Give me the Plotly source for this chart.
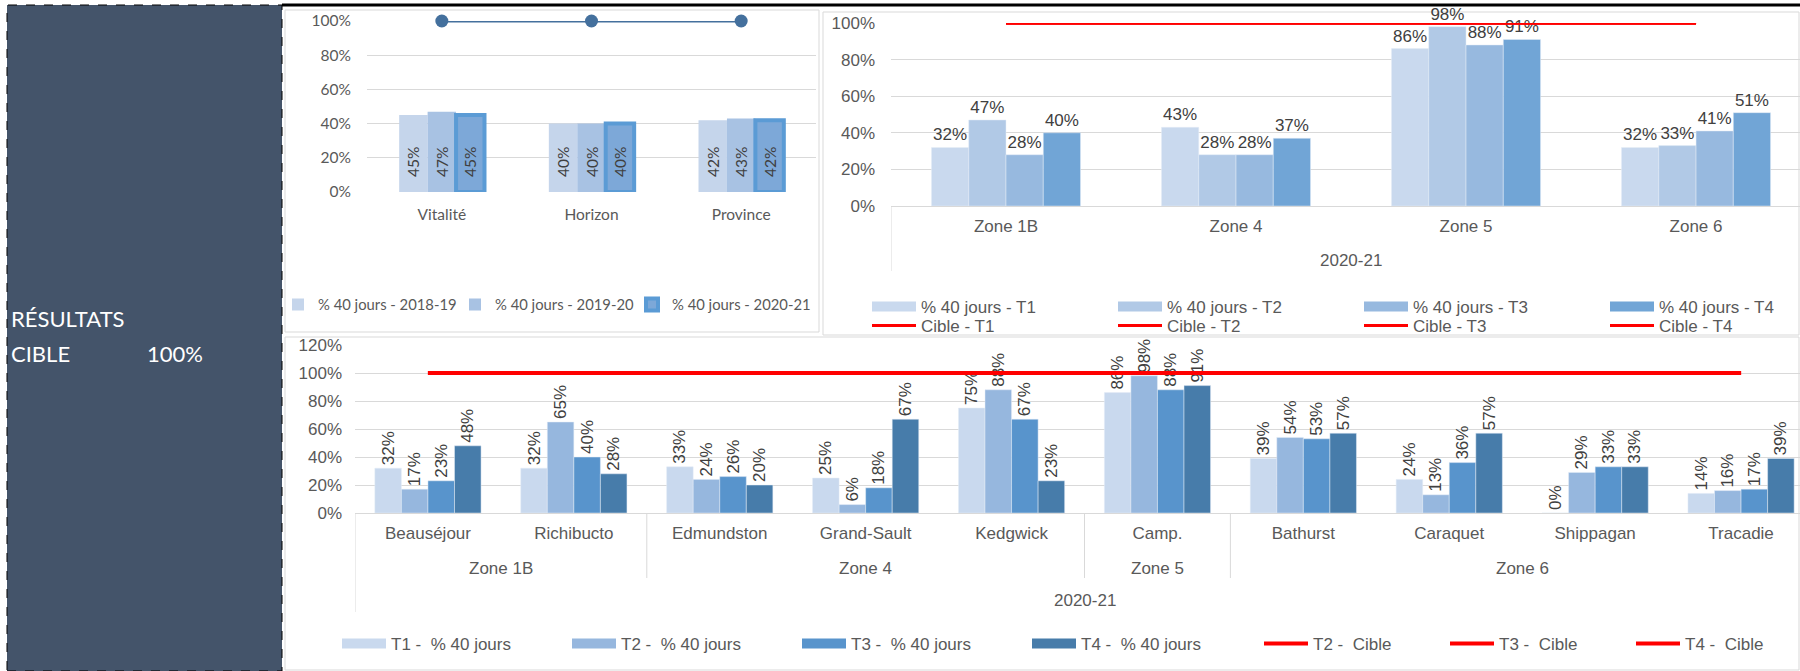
import plotly.graph_objects as go

W, H = 1800, 671

# --- top left: reseaux
reseaux = ["Vitalité", "Horizon", "Province"]
annees = ["% 40 jours - 2018-19", "% 40 jours - 2019-20", "% 40 jours - 2020-21"]
pct_reseaux = [
    [45, 40, 42],
    [47, 40, 43],
    [45, 40, 42],
]
cible_reseaux = [100, 100, 100]

# --- top right: zones
annee = "2020-21"
zones = ["Zone 1B", "Zone 4", "Zone 5", "Zone 6"]
trimestres = ["T1", "T2", "T3", "T4"]
pct_zones = [
    [32, 43, 86, 32],
    [47, 28, 98, 33],
    [28, 28, 88, 41],
    [40, 37, 91, 51],
]
cible_zones = [100, 100, 100, 100]

# --- bottom: sites
sites = ["Beauséjour", "Richibucto", "Edmundston", "Grand-Sault", "Kedgwick",
         "Camp.", "Bathurst", "Caraquet", "Shippagan", "Tracadie"]
zones_sites = ["Zone 1B", "Zone 1B", "Zone 4", "Zone 4", "Zone 4",
               "Zone 5", "Zone 6", "Zone 6", "Zone 6", "Zone 6"]
pct_sites = [
    [32, 32, 33, 25, 75, 86, 39, 24, 0, 14],
    [17, 65, 24, 6, 88, 98, 54, 13, 29, 16],
    [23, 40, 26, 18, 67, 88, 53, 36, 33, 17],
    [48, 28, 20, 67, 23, 91, 57, 57, 33, 39],
]
cible_sites = [100, 100, 100, 100, 100, 100, 100, 100, 100, 100]
cible_trim_sites = ["T2", "T3", "T4"]

col_reseaux = ["#C5D5EB", "#A8C2E3", "#7DA8D8"]
col_zones = ["#C9D9EE", "#B1C9E6", "#97B9DF", "#71A5D6"]
col_sites = ["#C9D9EE", "#96B7DE", "#5894CC", "#477CAA"]
RED = "#FF0000"
GRID = "#D9D9D9"
TXT = "#595959"
ARIAL = "Liberation Sans"
CALI = "Lato"
NB = "\u00a0"


def px_x(p):
    return p / W


def px_y(p):
    return 1 - p / H


fig = go.Figure()

# top left bars
w = 0.19
for i, name in enumerate(annees):
    fig.add_trace(go.Bar(
        x=reseaux, y=pct_reseaux[i], name=name,
        width=w, offset=-1.5 * w + i * w,
        marker=dict(color=col_reseaux[i],
                    line=dict(color="#5B9BD5" if i == 2 else col_reseaux[i],
                              width=4 if i == 2 else 0)),
        text=[NB * 3 + f"{v}%" for v in pct_reseaux[i]],
        textposition="inside", insidetextanchor="start", textangle=-90,
        textfont=dict(family=CALI, size=15.5, color="#404040"),
        xaxis="x", yaxis="y", legend="legend",
    ))
# empty trailing entry so the last legend label is not clipped
fig.add_trace(go.Scatter(
    x=[None], y=[None], mode="lines", name=NB, line=dict(color="rgba(0,0,0,0)"),
    xaxis="x", yaxis="y", legend="legend",
))
fig.add_trace(go.Scatter(
    x=reseaux, y=cible_reseaux, mode="lines+markers", name="Cible",
    line=dict(color="#44709D", width=3), marker=dict(size=13, color="#44709D"),
    cliponaxis=False, showlegend=False, xaxis="x", yaxis="y",
))

# top right bars (legend entries drawn as wide swatches)
w = 0.162
for i, t in enumerate(trimestres):
    fig.add_trace(go.Bar(
        x=zones, y=pct_zones[i], name=f"% 40 jours - {t}",
        width=w, offset=-2 * w + i * w,
        marker=dict(color=col_zones[i]),
        text=[f"{v}%" for v in pct_zones[i]],
        textposition="outside", constraintext="none", cliponaxis=False,
        textfont=dict(family=ARIAL, size=17, color="#404040"),
        xaxis="x2", yaxis="y2", showlegend=False,
    ))
    fig.add_trace(go.Scatter(
        x=[None], y=[None], mode="lines", name=f"% 40 jours - {t}",
        line=dict(color=col_zones[i], width=10),
        xaxis="x2", yaxis="y2", legend="legend2",
    ))
for t in trimestres:
    fig.add_trace(go.Scatter(
        x=zones, y=cible_zones, mode="lines", name=f"Cible - {t}",
        line=dict(color=RED, width=3), xaxis="x2", yaxis="y2", legend="legend3",
    ))

# bottom bars
w = 0.182
for i, t in enumerate(trimestres):
    fig.add_trace(go.Bar(
        x=sites, y=pct_sites[i], name=f"{t} -  % 40 jours",
        width=w, offset=-2 * w + i * w,
        marker=dict(color=col_sites[i]),
        text=[f"{v}%" for v in pct_sites[i]],
        textposition="outside", textangle=-90, constraintext="none", cliponaxis=False,
        textfont=dict(family=ARIAL, size=17, color="#404040"),
        xaxis="x3", yaxis="y3", showlegend=False,
    ))
    fig.add_trace(go.Scatter(
        x=[None], y=[None], mode="lines", name=f"{t} -  % 40 jours",
        line=dict(color=col_sites[i], width=10),
        xaxis="x3", yaxis="y3", legend="legend4",
    ))
for t in cible_trim_sites:
    fig.add_trace(go.Scatter(
        x=sites, y=cible_sites, mode="lines", name=f"{t} -  Cible",
        line=dict(color=RED, width=4), xaxis="x3", yaxis="y3", legend="legend5",
    ))

ygrid = dict(showgrid=True, gridcolor=GRID, gridwidth=1, zeroline=False,
             showline=False, ticks="", ticksuffix="%", dtick=20)


def leg(x, y, ew, iw, family, size):
    return dict(orientation="h", x=px_x(x), y=px_y(y), xanchor="left",
                yanchor="middle", entrywidth=ew, itemwidth=iw,
                font=dict(family=family, size=size, color=TXT),
                bgcolor="rgba(0,0,0,0)")


fig.update_layout(
    width=W, height=H, margin=dict(l=0, r=0, t=0, b=0, autoexpand=False),
    paper_bgcolor="white", plot_bgcolor="white",
    barmode="overlay",
    xaxis=dict(domain=[px_x(367), px_x(816)], anchor="y", ticks="",
               tickfont=dict(family=CALI, size=15.5, color=TXT),
               ticklabelstandoff=11, showline=False),
    yaxis=dict(domain=[px_y(192), px_y(21)], anchor="x", range=[0, 100],
               ticklabelstandoff=15,
               tickfont=dict(family=CALI, size=15.5, color=TXT), **ygrid),
    xaxis2=dict(domain=[px_x(891), 1.0], anchor="y2", range=[-0.5, 3.452],
                ticks="", showline=True, linecolor=GRID, ticklabelstandoff=5,
                tickfont=dict(family=ARIAL, size=17, color=TXT)),
    yaxis2=dict(domain=[px_y(206), px_y(23)], anchor="x2", range=[0, 100],
                ticklabelstandoff=15,
                tickfont=dict(family=ARIAL, size=17, color=TXT), **ygrid),
    xaxis3=dict(domain=[px_x(355), 1.0], anchor="y3", range=[-0.5, 9.404],
                ticks="", showline=True, linecolor=GRID, ticklabelstandoff=5,
                tickfont=dict(family=ARIAL, size=17, color=TXT)),
    yaxis3=dict(domain=[px_y(513), px_y(345)], anchor="x3", range=[0, 120],
                ticklabelstandoff=12,
                tickfont=dict(family=ARIAL, size=17, color=TXT), **ygrid),
    legend=leg(278, 305, 132, 30, CALI, 14.8),
    legend2=leg(867, 307, 187, 44, ARIAL, 17),
    legend3=leg(867, 326, 187, 44, ARIAL, 17),
    legend4=leg(337, 644, 171, 44, ARIAL, 17),
    legend5=leg(1259, 644, 127, 44, ARIAL, 17),
)

# dashboard frame: left panel, chart borders, top rule
shapes = [
    dict(type="rect", xref="paper", yref="paper", x0=px_x(7), x1=px_x(282),
         y0=0, y1=px_y(5), fillcolor="#44546A",
         line=dict(color="black", width=1, dash="dash"), layer="below"),
    dict(type="rect", xref="paper", yref="paper", x0=px_x(285), x1=px_x(819),
         y0=px_y(332), y1=px_y(10), line=dict(color=GRID, width=1), layer="below"),
    dict(type="rect", xref="paper", yref="paper", x0=px_x(823), x1=px_x(1799),
         y0=px_y(335), y1=px_y(12), line=dict(color=GRID, width=1), layer="below"),
    dict(type="rect", xref="paper", yref="paper", x0=px_x(285), x1=px_x(1799),
         y0=px_y(670), y1=px_y(337), line=dict(color=GRID, width=1), layer="below"),
    dict(type="line", xref="paper", yref="paper", x0=px_x(282), x1=1,
         y0=px_y(5), y1=px_y(5), line=dict(color="black", width=3)),
]

lab = dict(showarrow=False, yref="paper", yanchor="middle",
           font=dict(family=ARIAL, size=17, color=TXT))

# top right: year label + left divider
fig.add_annotation(text=annee, x=(len(zones) - 1) / 2, xref="x2", y=px_y(260), **lab)
shapes.append(dict(type="line", xref="x2", yref="paper", x0=-0.5, x1=-0.5,
                   y0=px_y(206), y1=px_y(271), line=dict(color=GRID, width=1)))

# bottom: zone groups, dividers, year label
groups = []
for i, z in enumerate(zones_sites):
    if groups and groups[-1][0] == z:
        groups[-1][2] = i
    else:
        groups.append([z, i, i])
for z, a, b in groups:
    fig.add_annotation(text=z, x=(a + b) / 2, xref="x3", y=px_y(568), **lab)
for z, a, b in groups[1:]:
    shapes.append(dict(type="line", xref="x3", yref="paper", x0=a - 0.5, x1=a - 0.5,
                       y0=px_y(513), y1=px_y(578), line=dict(color=GRID, width=1)))
shapes.append(dict(type="line", xref="x3", yref="paper", x0=-0.5, x1=-0.5,
                   y0=px_y(513), y1=px_y(612), line=dict(color=GRID, width=1)))
fig.add_annotation(text=annee, x=(len(sites) - 1) / 2, xref="x3", y=px_y(600), **lab)

fig.update_layout(shapes=shapes)

side = dict(xref="paper", yref="paper", xanchor="left", yanchor="middle",
            showarrow=False, font=dict(family=CALI, size=22, color="white"))
fig.add_annotation(text="RÉSULTATS", x=px_x(9), y=px_y(318), **side)
fig.add_annotation(text="CIBLE", x=px_x(9), y=px_y(353), **side)
fig.add_annotation(text="100%", x=px_x(145), y=px_y(353), **side)

fig.write_html(
    "out.html",
    config={"displayModeBar": False},
    post_script="document.body.style.margin='0';document.body.style.overflow='hidden';",
)
